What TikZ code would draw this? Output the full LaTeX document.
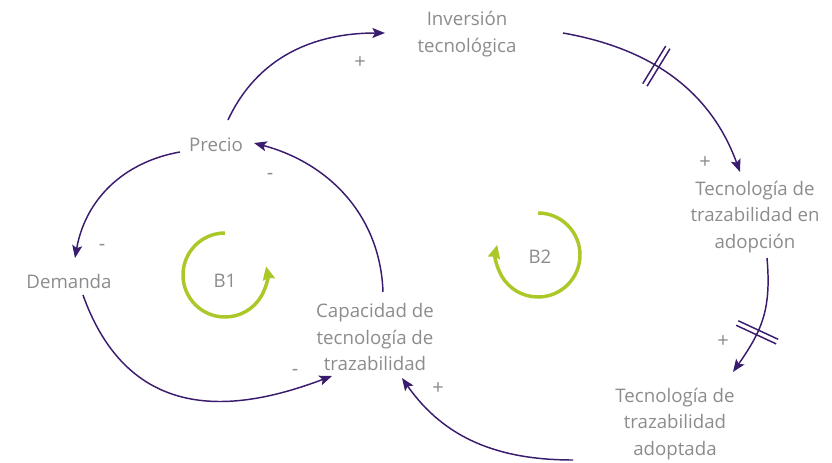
\documentclass[tikz,border=0pt]{standalone}
\usepackage{fontspec}
\setmainfont{Open Sans}
\usetikzlibrary{arrows.meta,decorations.markings}
\definecolor{arrowpurple}{RGB}{58,28,110}
\definecolor{loopgreen}{RGB}{170,200,40}
\definecolor{txtgray}{RGB}{140,140,140}
\begin{document}
\begin{tikzpicture}[x=0.75pt,y=0.75pt,
  var/.style={text=txtgray,align=center,font=\fontsize{14}{20}\selectfont,inner sep=0pt},
  sgn/.style={text=txtgray,font=\fontsize{15}{15}\selectfont,inner sep=0pt},
  link/.style={draw=arrowpurple,line width=1.1pt,-{Stealth[length=9.5pt,width=7.5pt,inset=2pt]}},
  loopar/.style={draw=loopgreen,line width=2.6pt,-{Stealth[length=10pt,width=9pt,inset=1pt]}},
  delaybars/.style={postaction={decorate},decoration={markings,mark=at position #1 with {\draw[arrowpurple,line width=1.1pt,-] (-2.5,-22) -- (-2.5,22) (2.5,-22) -- (2.5,22);}}}
]
\useasboundingbox (0,0) rectangle (832,462);

\node[var] (inv) at (467,428) {Inversión\\tecnológica};
\node[var] (precio) at (216,317) {Precio};
\node[var] (demanda) at (69,181) {Demanda};
\node[var] (cap) at (375,125) {Capacidad de\\tecnología de\\trazabilidad};
\node[var] (adop) at (755,245) {Tecnología de\\trazabilidad en\\adopción};
\node[var] (adoptada) at (675,38) {Tecnología de\\trazabilidad\\adoptada};
\node[var] (b1) at (225,181) {B1};
\node[var] (b2) at (540,205) {B2};

% connectors
\draw[link] ([shift={(12,25)}]precio.center) to[out=65,in=180] ([shift={(-82,1)}]inv.center);
\draw[link,delaybars=0.42] ([shift={(96,1)}]inv.center) to[out=-10,in=110] ([shift={(-15,45)}]adop.center);
\draw[link,delaybars=0.62] ([shift={(12,-41)}]adop.center) to[out=-85,in=55,looseness=1.1] ([shift={(58,52)}]adoptada.center);
\draw[link] ([shift={(-102,-36)}]adoptada.center) to[out=180,in=-55] ([shift={(27,-41)}]cap.center);
\draw[link] ([shift={(8,45)}]cap.center) to[out=92,in=-15] ([shift={(38,2)}]precio.center);
\draw[link] ([shift={(-36,-7)}]precio.center) to[out=190,in=80] ([shift={(6,23)}]demanda.center);
\draw[link] ([shift={(14,-14)}]demanda.center) .. controls +(50,-140) and +(-80,-30) .. ([shift={(-43,-39)}]cap.center);

% polarity signs
\node[sgn] (s1) at (360,399) {+};
\node[sgn] (s2) at (705,299) {+};
\node[sgn] (s3) at (723,120) {+};
\node[sgn] (s4) at (438,73) {+};
\node[sgn] (s5) at (270,286) {-};
\node[sgn] (s6) at (102,215) {-};
\node[sgn] (s7) at (295,90) {-};

% loop markers
\draw[loopar] ([shift={(0,48)}]b1.center) arc[start angle=90,end angle=372,radius=42];
\draw[loopar] ([shift={(-2,44)}]b2.center) arc[start angle=90,end angle=-194,radius=42];
\end{tikzpicture}
\end{document}
